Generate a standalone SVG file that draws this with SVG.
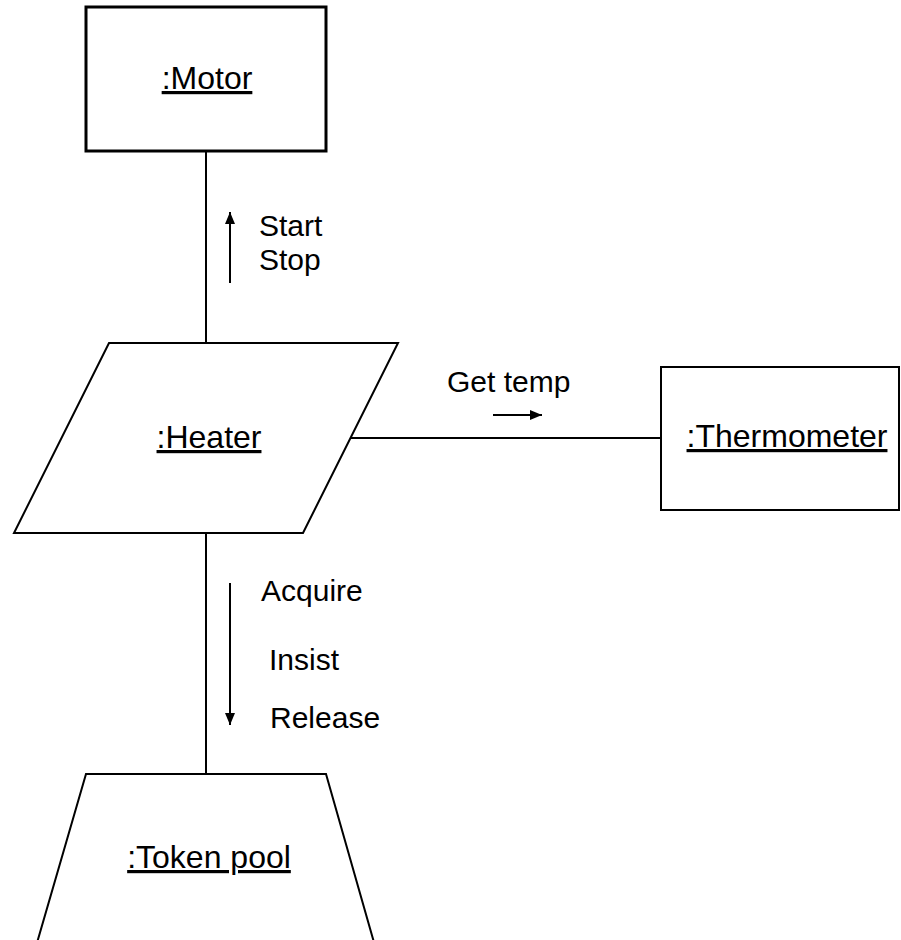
<svg xmlns="http://www.w3.org/2000/svg" width="901" height="940" viewBox="0 0 901 940">
<style>
.shape{fill:#fff;stroke:#000;stroke-width:2}
.conn{stroke:#000;stroke-width:2;fill:none}
.node{font-family:"Liberation Sans",Arial,sans-serif;font-size:32px;fill:#000;text-anchor:middle;text-decoration:underline}
.lbl{font-family:"Liberation Sans",Arial,sans-serif;font-size:30px;fill:#000}
</style>
<defs>
<marker id="ah" viewBox="0 0 12 10" refX="12" refY="5" markerWidth="12" markerHeight="10" markerUnits="userSpaceOnUse" orient="auto">
<path d="M0,0 L12,5 L0,10 Z" fill="#000"/>
</marker>
</defs>
<rect width="901" height="940" fill="#fff"/>
<g id="connectors">
<line class="conn" x1="206" y1="151" x2="206" y2="343"/>
<line class="conn" x1="206" y1="533" x2="206" y2="774"/>
<line class="conn" x1="350" y1="438" x2="661" y2="438"/>
<line class="conn" x1="230" y1="283" x2="230" y2="212" marker-end="url(#ah)"/>
<line class="conn" x1="230" y1="583" x2="230" y2="725" marker-end="url(#ah)"/>
<line class="conn" x1="493" y1="415" x2="542" y2="415" marker-end="url(#ah)"/>
<text class="lbl" x="259" y="236">Start</text>
<text class="lbl" x="259" y="270">Stop</text>
<text class="lbl" x="447" y="392">Get temp</text>
<text class="lbl" x="261" y="601">Acquire</text>
<text class="lbl" x="269" y="670">Insist</text>
<text class="lbl" x="270" y="728">Release</text>
</g>
<g id="motor">
<rect class="shape" x="86" y="7" width="240" height="144" style="stroke-width:3"/>
<text class="node" x="207" y="89">:Motor</text>
</g>
<g id="heater">
<polygon class="shape" points="109,343 398,343 303,533 14,533"/>
<text class="node" x="209" y="448">:Heater</text>
</g>
<g id="thermometer">
<rect class="shape" x="661" y="367" width="238" height="143"/>
<text class="node" x="787" y="447">:Thermometer</text>
</g>
<g id="tokenpool">
<path class="shape" d="M30,967 L86,774 L326,774 L381,967"/>
<text class="node" x="209" y="868">:Token pool</text>
</g>
</svg>
